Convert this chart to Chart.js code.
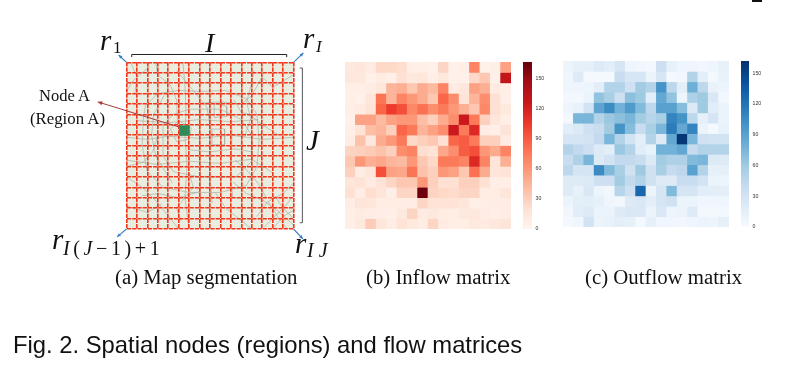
<!DOCTYPE html>
<html><head><meta charset="utf-8">
<style>
html,body{margin:0;padding:0;background:#fff;width:792px;height:390px;overflow:hidden}
canvas{position:absolute}
.t{position:absolute;white-space:pre;color:#111;line-height:1;font-family:"Liberation Serif",serif}
.i{font-style:italic}
</style>
<script src="https://cdn.jsdelivr.net/npm/chart.js@4"></script>
</head><body>
<script>
const columns=[...Array(16).keys()].map(String);
const inflow=[
[12,15,10,25,25,22,6,6,5,27,4,6,70,5,7,55],
[13,13,4,10,6,20,12,15,7,13,4,5,25,35,5,130],
[6,7,9,14,45,48,35,50,42,70,10,13,55,48,10,6],
[6,4,15,78,45,70,60,50,35,85,65,18,45,65,20,6],
[7,10,18,85,105,95,68,80,65,75,60,48,35,68,20,12],
[5,55,55,42,55,60,60,40,30,50,65,125,75,30,15,7],
[7,18,40,45,30,85,75,45,55,65,125,75,115,8,6,17],
[8,38,13,50,60,75,25,30,35,20,85,90,75,30,30,10],
[28,30,33,38,30,65,70,22,18,52,65,90,95,60,50,70],
[35,60,48,52,45,42,60,35,25,75,75,70,115,70,15,48],
[30,9,15,95,55,52,78,38,30,60,55,35,80,50,15,17],
[15,18,10,18,27,35,35,60,30,20,20,30,30,20,7,6],
[20,8,22,16,7,27,27,165,28,25,23,27,27,9,9,15],
[8,16,15,9,9,8,8,27,18,18,18,15,6,7,8,8],
[6,10,8,7,6,12,28,10,12,9,8,12,14,8,6,8],
[6,12,32,15,8,18,12,9,27,10,7,7,12,10,14,16]];
const outflow=[
[8,14,14,20,16,28,7,5,4,35,14,7,6,5,7,13],
[6,20,2,3,3,38,26,26,10,26,3,5,50,16,4,11],
[7,7,8,16,50,50,33,58,50,100,45,16,80,45,11,8],
[4,4,9,65,55,35,68,60,18,85,65,8,52,60,24,4],
[7,12,30,88,105,78,95,72,45,90,90,70,22,60,18,9],
[4,75,75,50,62,68,75,58,48,55,110,100,45,14,28,9],
[18,22,33,38,58,100,70,38,55,75,115,85,110,10,3,12],
[28,28,30,42,75,50,30,16,50,20,85,158,75,33,30,30],
[50,42,35,20,16,62,50,18,12,78,78,85,40,50,50,50],
[38,52,75,22,30,42,42,38,22,58,52,52,72,75,22,20],
[45,28,28,105,72,55,32,60,32,55,40,45,90,50,14,14],
[20,20,22,35,35,58,42,50,32,20,20,38,38,30,10,8],
[20,13,24,8,5,48,35,128,10,28,72,28,28,18,16,16],
[10,17,17,14,6,5,20,24,16,28,32,10,9,6,6,7],
[5,18,20,9,10,20,24,24,10,24,8,10,20,4,4,4],
[3,6,30,10,12,16,14,3,14,6,6,5,6,10,8,14]];
const inflowMax=167, outflowMax=162;
const colorbarTicks=[0,30,60,90,120,150];
const redsMap=['#fff5f0','#fee0d2','#fcbba1','#fc9272','#fb6a4a','#ef3b2c','#cb181d','#a50f15','#67000d'];
const bluesMap=['#f7fbff','#deebf7','#c6dbef','#9ecae1','#6baed6','#4292c6','#2171b5','#08519c','#08306b'];
const nodeCell=[5,6];
const roads=[
[[1.6,5.5],[1.8,4.2],[3,3],[5,2.7],[7,2.8],[9.5,2.7],[11.5,3.5],[12.5,5],[12.7,7.5],[12.5,10],[11.5,11.8],[9,12.5],[6,12.5],[3.5,12],[2,10.5],[1.5,8],[1.6,5.5]],
[[3.5,6],[4.5,5],[6,4.5],[9,4.5],[11,5.5],[12,7],[12,9.5],[10.5,11],[7,11],[4.5,10.5],[3.5,9],[3.5,6]],
[[4.8,0.8],[5.8,2],[6.8,3.2],[7.7,4.3],[8,6]],
[[2.8,0],[3,1.2],[4.2,2.2],[4.8,3.6],[4.9,6]],
[[5.4,0],[5.6,2.2],[5.7,4.6],[5.6,7],[5.8,10],[5.6,13],[6,16]],
[[7,4.5],[7,8],[7.1,11],[7,14]],
[[8,3],[8.1,7],[8,11],[8.2,13.5]],
[[9,2.6],[9,6],[9.1,9]],
[[10,3.1],[10.1,7],[10,11.5],[10.2,13]],
[[11,1.8],[11.1,4.5],[11,8],[11.2,11]],
[[0,7.2],[2,7.4],[4,7.1],[7,7.3],[10,7],[13,7.4],[16,7.2]],
[[0,9.4],[3,9.8],[6,9.5],[9,9.7],[12,9.3],[14,10.6]],
[[1,5.6],[4,5.8],[7,5.5],[10,5.7],[12.6,5.5]],
[[6,4],[9,3.8],[11,4],[12,3.2],[13,1.4],[14,2.4],[16,1.2]],
[[0,11],[1.5,12],[3,13.5],[4.2,15],[5,16]],
[[0,10],[1.6,9.6],[2.5,8.6],[3,7]],
[[1.5,12.8],[3,12.6],[5,13],[7,12.4]],
[[10.2,11.5],[11.5,12.6],[13,13.2],[14.4,14.2],[16,15.6]],
[[12.5,14.8],[13.5,13.4],[15,12.6],[16,11.6]],
[[13.2,15.8],[14.4,14.6],[15.4,13.6],[15.8,13]],
[[14,16],[15,14.8],[16,14.2]],
[[13.6,13.4],[14.6,15],[15.4,16]],
[[14.2,12.8],[15,14],[16,15]],
[[11.3,7.2],[11.9,5.4],[11.5,3.8],[12,2],[12.2,0.8]],
[[10.3,3.6],[11,4.8],[11.8,5],[13,6],[14.6,7]],
[[8.4,4],[9.6,4.2],[9.6,5.2],[8.4,5.3],[8.4,4]],
[[8.2,6.4],[9.4,6.4],[9.4,7.9],[8.2,7.9],[8.2,6.4]],
[[2.2,0.4],[0.6,1.8],[0,2.8]],
[[0.4,0],[1,1.4],[0.8,3]],
[[3.6,3.2],[2.6,5],[2.4,7],[2.8,9],[4.4,11.6]],
[[6,10.6],[6.4,12],[4.8,14],[5.2,15.2]],
[[6,8.4],[8,8.6],[10.4,8.3],[12,8.6]],
[[4.2,6.4],[5,5.6],[6.2,6.3],[6,7.4],[4.8,7.6],[4.2,6.4]],
[[10.4,9.4],[11.4,10.2],[12.6,11.6],[13.4,13]],
[[0,13.8],[2,14.4],[3.4,13.6]],
[[8.5,12.5],[9.5,14],[11,15.2],[12,16]]
];
// arrows and braces in grid units of the map's scales
const blueArrows=[[[0,0],[-0.75,-0.7]],[[16,0],[16.95,-0.9]],[[0,16],[-0.9,16.75]],[[16,16],[16.9,16.95]]];
const nodeArrow=[[5,6.2],[-2.75,3.8]];
const braceTop=[[0.5,-0.5],[0.5,-0.75],[15.35,-0.75],[15.35,-0.5]];
const braceRight=[[16.6,0.55],[16.85,0.55],[16.85,15.4],[16.6,15.4]];

const lerpMap=(m,t)=>{t=Math.max(0,Math.min(1,t))*(m.length-1);const i=Math.min(m.length-2,Math.floor(t)),f=t-i;
 const h=s=>[1,3,5].map(k=>parseInt(s.substr(k,2),16));const a=h(m[i]),b=h(m[i+1]);
 return 'rgb('+a.map((v,k)=>Math.round(v+(b[k]-v)*f)).join(',')+')';};
function mk(l,t,w,h,extra){const c=document.createElement('canvas');c.width=w;c.height=h;c.style.cssText=`left:${l}px;top:${t}px;width:${w}px;height:${h}px;`+(extra||'');document.body.appendChild(c);return c;}
Chart.defaults.animation=false;Chart.defaults.responsive=false;Chart.defaults.devicePixelRatio=1;

function heat(l,t,w,h,rows,map,vmax){
 new Chart(mk(l,t,w,h,'filter:blur(0.6px)'),{type:'bar',data:{labels:columns,
  datasets:rows.map((row,r)=>({data:row.map((v,c)=>({x:columns[c],y:[r,r+1],v})),
   backgroundColor:ctx=>lerpMap(map,(ctx.raw?ctx.raw.v:0)/vmax),borderWidth:0,barPercentage:1,categoryPercentage:1,grouped:false}))},
  options:{layout:{padding:0},plugins:{legend:{display:false},tooltip:{enabled:false},title:{display:false}},
   scales:{x:{display:false},y:{display:false,min:0,max:16,reverse:true}}}});
}
function bar(l,t,w,h,map,vmax){
 new Chart(mk(l,t-10,w+26,h+20,'filter:blur(0.35px)'),{type:'bar',data:{labels:['v'],datasets:[{data:[[0,vmax]],borderWidth:0,barPercentage:1,categoryPercentage:1,
   backgroundColor:ctx=>{const a=ctx.chart.chartArea;if(!a)return map[0];const g=ctx.chart.ctx.createLinearGradient(0,a.bottom,0,a.top);map.forEach((c,i)=>g.addColorStop(i/(map.length-1),c));return g;}}]},
  options:{layout:{padding:{top:10,bottom:10}},plugins:{legend:{display:false},tooltip:{enabled:false}},
   scales:{x:{display:false},y:{position:'right',min:0,max:vmax,afterFit:s=>{s.width=26},afterBuildTicks:s=>{s.ticks=colorbarTicks.map(value=>({value}))},
    grid:{display:false,drawTicks:false},border:{display:false},ticks:{padding:3.5,font:{size:5.2,family:'"Liberation Sans"'},color:'#333'}}}}});
}
heat(345,62,166,167,inflow,redsMap,inflowMax);
bar(523,62,9,167,redsMap,inflowMax);
heat(563,61,166,166,outflow,bluesMap,outflowMax);
bar(741,61,8,166,bluesMap,outflowMax);

function path(ctx,x,y,pts,color,w){ctx.strokeStyle=color;ctx.lineWidth=w;ctx.setLineDash([]);ctx.beginPath();pts.forEach((p,i)=>{const X=x.getPixelForValue(p[0]),Y=y.getPixelForValue(p[1]);i?ctx.lineTo(X,Y):ctx.moveTo(X,Y)});ctx.stroke();}
function arrow(ctx,x,y,pts,color,w,s){path(ctx,x,y,pts,color,w);
 const X=x.getPixelForValue(pts[1][0]),Y=y.getPixelForValue(pts[1][1]),X0=x.getPixelForValue(pts[0][0]),Y0=y.getPixelForValue(pts[0][1]),a=Math.atan2(Y-Y0,X-X0);
 ctx.fillStyle=color;ctx.beginPath();ctx.moveTo(X,Y);ctx.lineTo(X-s*Math.cos(a-.45),Y-s*Math.sin(a-.45));ctx.lineTo(X-s*Math.cos(a+.45),Y-s*Math.sin(a+.45));ctx.closePath();ctx.fill();}
const mapPlugin={id:'mapDecor',
 beforeDatasetsDraw(c){const a=c.chartArea,g=c.ctx;g.save();g.fillStyle='#e9eddf';g.fillRect(a.left,a.top,a.width,a.height);g.restore();},
 afterDraw(c){const g=c.ctx,x=c.scales.x,y=c.scales.y;g.save();
  g.fillStyle='#2e8b57';g.fillRect(x.getPixelForValue(nodeCell[0])+.5,y.getPixelForValue(nodeCell[1])+.5,x.getPixelForValue(1)-x.getPixelForValue(0),y.getPixelForValue(1)-y.getPixelForValue(0));
  blueArrows.forEach(p=>arrow(g,x,y,p,'#3b7fc4',1.1,4));
  arrow(g,x,y,nodeArrow,'#a83a3a',1,5);
  path(g,x,y,braceTop,'#222',1);path(g,x,y,braceRight,'#555',1);
  g.restore();}};
new Chart(mk(0,0,792,390,'filter:blur(0.25px)'),{type:'scatter',plugins:[mapPlugin],
 data:{datasets:roads.map(r=>({data:r.map(p=>({x:p[0],y:p[1]})),showLine:true,pointRadius:0,borderColor:'#aab0a4',borderWidth:0.7,tension:0}))},
 options:{layout:{padding:{left:126.5,top:62.3,right:498.5,bottom:161}},plugins:{legend:{display:false},tooltip:{enabled:false}},
  scales:{
   x:{min:0,max:16,ticks:{display:false,stepSize:1},grid:{color:'#f2341a',lineWidth:1.6,z:1,drawTicks:false},border:{display:false,dash:[4.2,1.02]}},
   y:{min:0,max:16,reverse:true,ticks:{display:false,stepSize:1},grid:{color:'#f2341a',lineWidth:1.6,z:1,drawTicks:false},border:{display:false,dash:[4.2,1.02]}}}}});

function txt(s,left,base,size,opt={}){const d=document.createElement('div');d.className='t'+(opt.i?' i':'');
 const asc=opt.sans?.8465:.837;d.style.left=left+'px';d.style.top=(base-asc*size)+'px';d.style.fontSize=size+'px';
 if(opt.sans)d.style.fontFamily='"Liberation Sans",sans-serif';if(opt.ls)d.style.letterSpacing=opt.ls+'px';
 d.innerHTML=s;document.body.appendChild(d);return d;}
txt('r',100,50,29,{i:1});txt('1',113,53.5,17);
txt('I',205,52,28,{i:1});
txt('r',303,48,29,{i:1});txt('I',316,52.7,17,{i:1});
txt('J',306,150,29,{i:1});
txt('r',52,249,29,{i:1});txt('<i>I</i>(<i>J</i>−1)+1',63,255,20,{ls:3.6});
txt('r',295,253,29,{i:1});txt('<i>I J</i>',307,257,20);
txt('Node A',39,101.7,16.5);txt('(Region A)',30,125,16.8);
txt('(a) Map segmentation',115,284,20.8);
txt('(b) Inflow matrix',366,284,20.8);
txt('(c) Outflow matrix',585,284,20.8);
txt('Fig. 2. Spatial nodes (regions) and flow matrices',13,353,23.8,{sans:1});
const mk2=document.createElement('div');mk2.style.cssText='position:absolute;left:752px;top:0;width:10px;height:2px;background:#111';document.body.appendChild(mk2);
</script>
</body></html>
